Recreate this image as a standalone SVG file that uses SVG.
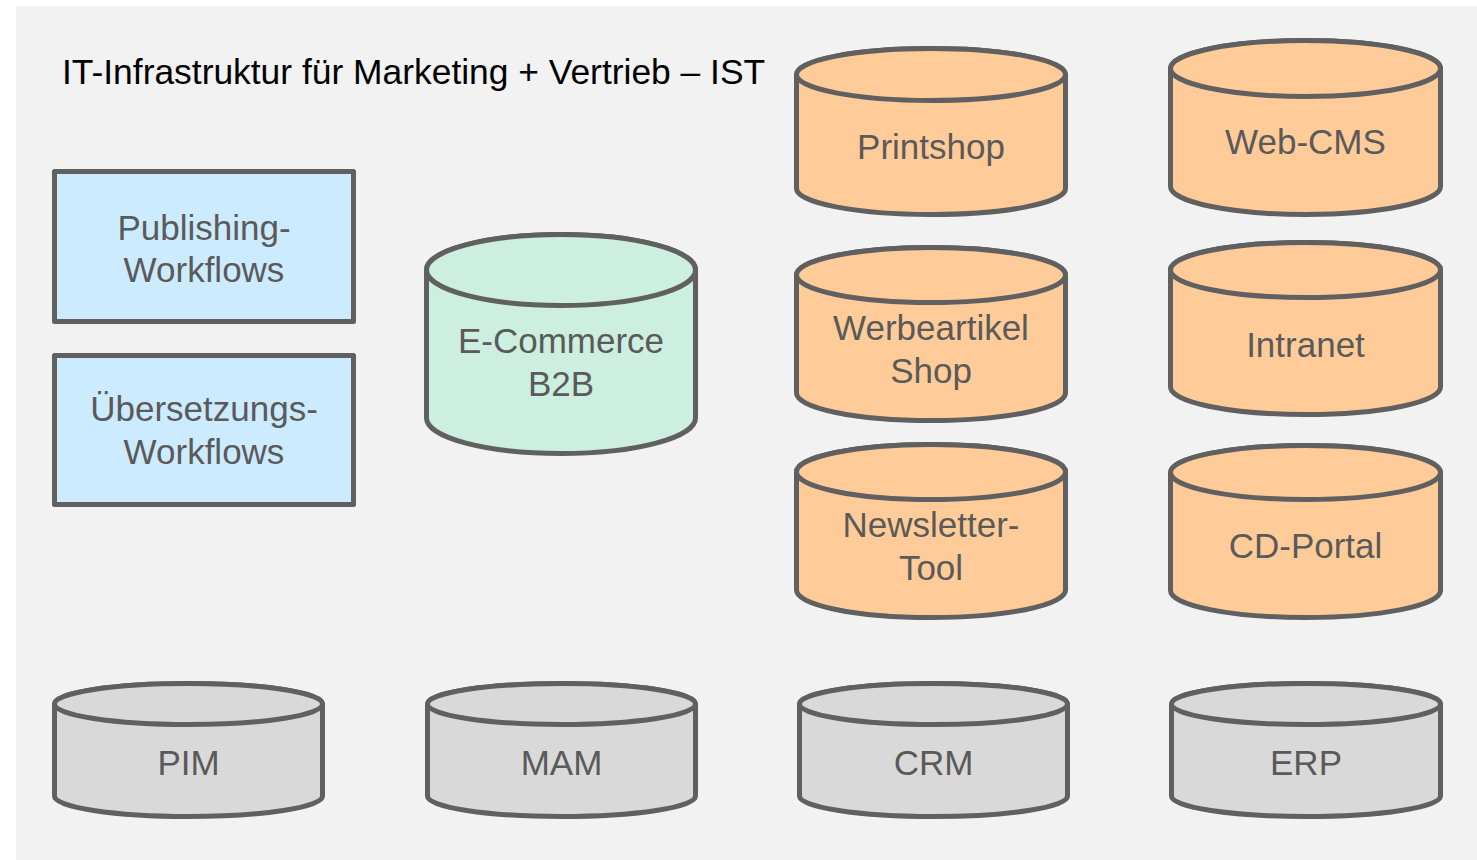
<svg xmlns="http://www.w3.org/2000/svg" width="1477" height="860" viewBox="0 0 1477 860">
<style>
.bg{fill:#f2f2f2}
.shp{stroke:#606060;stroke-width:5;stroke-linejoin:round}
.blue{fill:#cdebff}
.green{fill:#ccefdf}
.orange{fill:#ffcc99}
.grey{fill:#d9d9d9}
.lbl{font-family:"Liberation Sans",Arial,sans-serif;font-size:35px;fill:#5a5a5a;text-anchor:middle}
.title{font-family:"Liberation Sans",Arial,sans-serif;font-size:35.4px;fill:#000}
</style>
<rect x="0" y="0" width="1477" height="860" fill="#ffffff"/>
<rect class="bg" x="16" y="6" width="1461" height="854"/>
<text class="title" x="62" y="84">IT-Infrastruktur für Marketing + Vertrieb – IST</text>

<g id="publishing-workflows">
<rect class="shp blue" x="54.5" y="171.5" width="299" height="150"/>
<text class="lbl" x="204" y="240">Publishing-</text>
<text class="lbl" x="204" y="282">Workflows</text>
</g>
<g id="uebersetzungs-workflows">
<rect class="shp blue" x="54.5" y="355.5" width="299" height="149"/>
<text class="lbl" x="204" y="421">Übersetzungs-</text>
<text class="lbl" x="204" y="464">Workflows</text>
</g>

<g id="ecommerce-b2b">
<path class="shp green" d="M426.5 270 V418 A134.5 35.5 0 0 0 695.5 418 V270 A134.5 35.5 0 0 0 426.5 270 Z"/>
<ellipse class="shp green" cx="561" cy="270" rx="134.5" ry="35.5"/>
<text class="lbl" x="561" y="353">E-Commerce</text>
<text class="lbl" x="561" y="396">B2B</text>
</g>

<g id="printshop">
<path class="shp orange" d="M796.5 74.5 V188.5 A134.5 26 0 0 0 1065.5 188.5 V74.5 A134.5 26 0 0 0 796.5 74.5 Z"/>
<ellipse class="shp orange" cx="931" cy="74.5" rx="134.5" ry="26"/>
<text class="lbl" x="931" y="159">Printshop</text>
</g>

<g id="werbeartikel-shop">
<path class="shp orange" d="M796.5 275 V393 A134.5 27.5 0 0 0 1065.5 393 V275 A134.5 27.5 0 0 0 796.5 275 Z"/>
<ellipse class="shp orange" cx="931" cy="275" rx="134.5" ry="27.5"/>
<text class="lbl" x="931" y="340">Werbeartikel</text>
<text class="lbl" x="931" y="383">Shop</text>
</g>

<g id="newsletter-tool">
<path class="shp orange" d="M796.5 472 V590 A134.5 27.5 0 0 0 1065.5 590 V472 A134.5 27.5 0 0 0 796.5 472 Z"/>
<ellipse class="shp orange" cx="931" cy="472" rx="134.5" ry="27.5"/>
<text class="lbl" x="931" y="537">Newsletter-</text>
<text class="lbl" x="931" y="580">Tool</text>
</g>

<g id="web-cms">
<path class="shp orange" d="M1170.5 68.5 V186.5 A135 28 0 0 0 1440.5 186.5 V68.5 A135 28 0 0 0 1170.5 68.5 Z"/>
<ellipse class="shp orange" cx="1305.5" cy="68.5" rx="135" ry="28"/>
<text class="lbl" x="1305.5" y="154">Web-CMS</text>
</g>

<g id="intranet">
<path class="shp orange" d="M1170.5 270 V387 A135 27.5 0 0 0 1440.5 387 V270 A135 27.5 0 0 0 1170.5 270 Z"/>
<ellipse class="shp orange" cx="1305.5" cy="270" rx="135" ry="27.5"/>
<text class="lbl" x="1305.5" y="357">Intranet</text>
</g>

<g id="cd-portal">
<path class="shp orange" d="M1170.5 472.5 V590.5 A135 27 0 0 0 1440.5 590.5 V472.5 A135 27 0 0 0 1170.5 472.5 Z"/>
<ellipse class="shp orange" cx="1305.5" cy="472.5" rx="135" ry="27"/>
<text class="lbl" x="1305.5" y="558">CD-Portal</text>
</g>

<g id="pim">
<path class="shp grey" d="M54.5 704 V796 A134 20.5 0 0 0 322.5 796 V704 A134 20.5 0 0 0 54.5 704 Z"/>
<ellipse class="shp grey" cx="188.5" cy="704" rx="134" ry="20.5"/>
<text class="lbl" x="188.5" y="775">PIM</text>
</g>

<g id="mam">
<path class="shp grey" d="M427.5 704 V796 A134 20.5 0 0 0 695.5 796 V704 A134 20.5 0 0 0 427.5 704 Z"/>
<ellipse class="shp grey" cx="561.5" cy="704" rx="134" ry="20.5"/>
<text class="lbl" x="561.5" y="775">MAM</text>
</g>

<g id="crm">
<path class="shp grey" d="M799.5 704 V796 A134 20.5 0 0 0 1067.5 796 V704 A134 20.5 0 0 0 799.5 704 Z"/>
<ellipse class="shp grey" cx="933.5" cy="704" rx="134" ry="20.5"/>
<text class="lbl" x="933.5" y="775">CRM</text>
</g>

<g id="erp">
<path class="shp grey" d="M1171.5 704 V796 A134.5 20.5 0 0 0 1440.5 796 V704 A134.5 20.5 0 0 0 1171.5 704 Z"/>
<ellipse class="shp grey" cx="1306" cy="704" rx="134.5" ry="20.5"/>
<text class="lbl" x="1306" y="775">ERP</text>
</g>

<g id="connectors"></g>
</svg>
